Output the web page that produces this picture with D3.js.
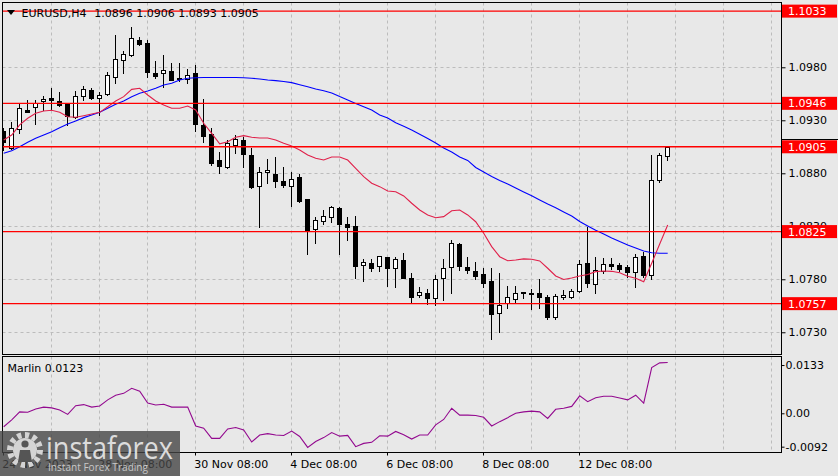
<!DOCTYPE html>
<html><head><meta charset="utf-8">
<script src="https://cdn.jsdelivr.net/npm/d3@7"></script>
<style>html,body{margin:0;padding:0;background:#e8e8e8;}svg{display:block}</style>
</head><body>
<svg id="c" width="838" height="476"></svg>
<script>
// ---------------- DATA ----------------
const times = [
 "24 Nov 08:00","24 Nov 12:00","24 Nov 16:00","24 Nov 20:00",
 "27 Nov 00:00","27 Nov 04:00","27 Nov 08:00","27 Nov 12:00","27 Nov 16:00","27 Nov 20:00",
 "28 Nov 00:00","28 Nov 04:00","28 Nov 08:00","28 Nov 12:00","28 Nov 16:00","28 Nov 20:00",
 "29 Nov 00:00","29 Nov 04:00","29 Nov 08:00","29 Nov 12:00","29 Nov 16:00","29 Nov 20:00",
 "30 Nov 00:00","30 Nov 04:00","30 Nov 08:00","30 Nov 12:00","30 Nov 16:00","30 Nov 20:00",
 "1 Dec 00:00","1 Dec 04:00","1 Dec 08:00","1 Dec 12:00","1 Dec 16:00","1 Dec 20:00",
 "4 Dec 00:00","4 Dec 04:00","4 Dec 08:00","4 Dec 12:00","4 Dec 16:00","4 Dec 20:00",
 "5 Dec 00:00","5 Dec 04:00","5 Dec 08:00","5 Dec 12:00","5 Dec 16:00","5 Dec 20:00",
 "6 Dec 00:00","6 Dec 04:00","6 Dec 08:00","6 Dec 12:00","6 Dec 16:00","6 Dec 20:00",
 "7 Dec 00:00","7 Dec 04:00","7 Dec 08:00","7 Dec 12:00","7 Dec 16:00","7 Dec 20:00",
 "8 Dec 00:00","8 Dec 04:00","8 Dec 08:00","8 Dec 12:00","8 Dec 16:00","8 Dec 20:00",
 "11 Dec 00:00","11 Dec 04:00","11 Dec 08:00","11 Dec 12:00","11 Dec 16:00","11 Dec 20:00",
 "12 Dec 00:00","12 Dec 04:00","12 Dec 08:00","12 Dec 12:00","12 Dec 16:00","12 Dec 20:00",
 "13 Dec 00:00","13 Dec 04:00","13 Dec 08:00","13 Dec 12:00","13 Dec 16:00","13 Dec 20:00",
 "14 Dec 00:00","14 Dec 04:00"];

const open = [1.0920,1.09042,1.09215,1.09397,1.09423,1.09479,1.0951,1.09479,1.09454,1.09334,
 1.09532,1.09583,1.09508,1.09545,1.09711,1.09866,1.09913,1.10058,1.10029,1.09743,
 1.09743,1.09765,1.09692,1.09688,1.09743,1.09256,1.09171,1.08925,1.08862,1.09064,
 1.09114,1.08973,1.08683,1.08809,1.08793,1.08727,1.08683,1.08762,1.08555,1.0827,
 1.08347,1.08383,1.08475,1.08326,1.08303,1.07938,1.07951,1.07928,1.08008,1.07902,
 1.07982,1.07815,1.07647,1.07668,1.07628,1.07809,1.07913,1.08133,1.07916,1.07878,
 1.07848,1.07784,1.07485,1.07576,1.07614,1.07668,1.07672,1.07668,1.0763,1.07442,
 1.0763,1.07636,1.07692,1.07951,1.07753,1.07878,1.07942,1.07935,1.07919,1.07866,
 1.0802,1.07841,1.08737,1.0896];
const high = [1.0923,1.09287,1.09454,1.09492,1.09492,1.09529,1.09608,1.09564,1.0946,1.09576,
 1.09624,1.09602,1.0957,1.09758,1.10105,1.09954,1.10177,1.10089,1.10058,1.09859,
 1.09916,1.09838,1.0984,1.09781,1.09822,1.09498,1.09225,1.09004,1.09114,1.09161,
 1.0914,1.09036,1.08857,1.08935,1.08951,1.08862,1.08809,1.08793,1.08555,1.08388,
 1.08454,1.08492,1.08479,1.08388,1.08397,1.07987,1.07992,1.0802,1.0801,1.08008,
 1.08051,1.07857,1.07725,1.07704,1.07845,1.07992,1.08175,1.0814,1.08008,1.07963,
 1.07904,1.07904,1.07857,1.07734,1.07737,1.07683,1.07706,1.078,1.07652,1.07661,
 1.07699,1.07708,1.07982,1.08296,1.08013,1.07998,1.07998,1.07957,1.07935,1.08039,
 1.0806,1.08973,1.08994,1.0906];
const low = [1.0902,1.09029,1.09177,1.09375,1.09265,1.09397,1.09397,1.09435,1.09256,1.09325,
 1.09494,1.09501,1.0935,1.09539,1.09649,1.09743,1.09905,1.1001,1.09711,1.09696,
 1.09617,1.09677,1.09666,1.09655,1.09202,1.09098,1.08878,1.088,1.08847,1.08989,
 1.08862,1.08664,1.08296,1.08706,1.08668,1.08668,1.08494,1.08532,1.08043,1.08145,
 1.08319,1.08343,1.08039,1.08171,1.07815,1.07787,1.07878,1.07881,1.0774,1.07725,
 1.07808,1.07579,1.07636,1.07567,1.07553,1.07605,1.07674,1.07888,1.07859,1.07803,
 1.07727,1.07234,1.07306,1.07529,1.07579,1.07621,1.07517,1.07526,1.07423,1.07423,
 1.07611,1.07621,1.07683,1.0773,1.07674,1.07862,1.07897,1.07881,1.07819,1.0773,
 1.07825,1.078,1.08721,1.0893];
const close = [1.09095,1.09225,1.09413,1.09381,1.09466,1.09498,1.09489,1.09442,1.09343,1.09529,
 1.09592,1.09513,1.09539,1.09727,1.09878,1.09925,1.10074,1.10017,1.09758,1.09721,
 1.09775,1.09683,1.09696,1.09725,1.09262,1.09155,1.089,1.08872,1.09083,1.09121,
 1.08979,1.08674,1.08815,1.08831,1.0873,1.0869,1.08746,1.08539,1.08256,1.08357,
 1.08397,1.08479,1.08322,1.08289,1.07925,1.07963,1.07909,1.0802,1.07909,1.07993,
 1.07815,1.07636,1.07677,1.07619,1.078,1.07904,1.0814,1.07923,1.07883,1.07831,
 1.07768,1.07475,1.0756,1.07636,1.07674,1.07683,1.07675,1.07636,1.07447,1.07642,
 1.07652,1.0769,1.07942,1.07768,1.07888,1.07942,1.07925,1.07897,1.07872,1.08008,
 1.07841,1.08737,1.08973,1.0905];

const maFast = [1.09114,1.09161,1.09256,1.09319,1.09366,1.09388,1.09394,1.09375,1.09334,1.09328,
 1.09343,1.09359,1.09375,1.09428,1.09482,1.09523,1.09592,1.09602,1.09539,1.09482,
 1.09444,1.09413,1.09413,1.09435,1.09397,1.09272,1.09177,1.09078,1.09098,1.0914,
 1.09155,1.0914,1.09133,1.09133,1.09114,1.09083,1.09058,1.0902,1.08973,1.08942,
 1.08925,1.08954,1.08954,1.08925,1.08847,1.08768,1.08706,1.08674,1.08633,1.08626,
 1.08586,1.08517,1.08454,1.08407,1.08381,1.08391,1.08447,1.08454,1.08407,1.08343,
 1.08234,1.08108,1.08013,1.07975,1.07982,1.07992,1.07989,1.07973,1.07904,1.07831,
 1.07798,1.07812,1.07831,1.07845,1.07872,1.07878,1.07875,1.07862,1.07828,1.07809,
 1.07777,1.07951,1.08133,1.08312];
const maSlow = [1.08989,1.09013,1.09051,1.09092,1.0913,1.09161,1.09192,1.0923,1.09265,1.09293,
 1.09325,1.0935,1.09375,1.09413,1.09451,1.09482,1.09523,1.09555,1.09576,1.09602,
 1.09633,1.09649,1.0968,1.09696,1.09702,1.09704,1.09704,1.09704,1.09704,1.09703,
 1.09702,1.09696,1.0969,1.0968,1.09674,1.09666,1.09655,1.09635,1.09616,1.09595,
 1.09578,1.09558,1.09524,1.09492,1.09458,1.09428,1.09397,1.0935,1.09322,1.09276,
 1.09243,1.09208,1.09169,1.09128,1.09086,1.09039,1.09001,1.08954,1.08921,1.08855,
 1.08812,1.0877,1.08732,1.08699,1.08661,1.08624,1.08588,1.08548,1.0851,1.08475,
 1.08435,1.08397,1.08345,1.08303,1.08262,1.08227,1.0819,1.08156,1.08124,1.08095,
 1.08067,1.0805,1.08045,1.08045];

const marlin = [-0.0037,-0.0018,0.0004,0.0003,0.0012,0.0017,0.0015,0.0009,-0.0003,0.0021,
 0.0024,0.0017,0.0020,0.0037,0.0050,0.0055,0.0069,0.0061,0.0028,0.0023,
 0.0025,0.0017,0.0017,0.0017,-0.0035,-0.0041,-0.0069,-0.0069,-0.0043,-0.0039,
 -0.0046,-0.0079,-0.0060,-0.0056,-0.0060,-0.0061,-0.0049,-0.0064,-0.0094,-0.0078,
 -0.0067,-0.0053,-0.0063,-0.0061,-0.0092,-0.0083,-0.0080,-0.0062,-0.0063,-0.0050,
 -0.0059,-0.0071,-0.0060,-0.0060,-0.0032,-0.0017,0.0014,-0.0005,-0.0005,-0.0006,
 -0.0011,-0.0035,-0.0023,-0.0012,0.0000,0.0004,0.0006,0.0004,-0.0014,0.0011,
 0.0014,0.0019,0.0048,0.0032,0.0043,0.0047,0.0047,0.0042,0.0037,0.0050,
 0.0028,0.0126,0.0139,0.0140];

const levels = [1.1033, 1.0946, 1.0905, 1.0825, 1.0757];
const priceTicks = [1.0730, 1.0780, 1.0830, 1.0880, 1.0930, 1.0980];
const marlinTicks = [0.0133, 0, -0.0092];
const marlinTickLabels = ["0.0133", "0.00", "-0.0092"];
const timeTicks = ["24 Nov 08:00","28 Nov 08:00","30 Nov 08:00","4 Dec 08:00","6 Dec 08:00","8 Dec 08:00","12 Dec 08:00"];
const timeTickLabels = ["24 Nov 2023","28 Nov 08:00","30 Nov 08:00","4 Dec 08:00","6 Dec 08:00","8 Dec 08:00","12 Dec 08:00"];
const symbolTitle = "EURUSD,H4";
const lastBar = [1.0896, 1.0906, 1.0893, 1.0905];
const indicatorName = "Marlin";
const indicatorValue = 0.0123;

// ---------------- LAYOUT ----------------
const FONT = "DejaVu Sans, Verdana, sans-serif";
const L = 2.5, R = 781.5, T = 2.5, B = 354.5, IT = 356.5, IB = 452.5;
const svg = d3.select("#c");
const x = d3.scalePoint().domain(times).range([3.7, 667.7]);
const y = d3.scaleLinear().domain([1.07095, 1.10416]).range([354, 2]);
const yi = d3.scaleLinear().domain([-0.0094, 0.0140]).range([447.4, 362.5]);
const px = v => Math.floor(v) + 0.5;

svg.append("rect").attr("width", 838).attr("height", 476).attr("fill", "#e8e8e8");

const defs = svg.append("defs");
defs.append("clipPath").attr("id", "cm").append("rect").attr("x", L).attr("y", T).attr("width", R - L).attr("height", B - T);
defs.append("clipPath").attr("id", "ci").append("rect").attr("x", L).attr("y", IT).attr("width", R - L).attr("height", IB - IT);

// grid
const gridCol = "#bcbcbc";
const step = x.step();
const gx = d3.range(6, 98, 6).map(k => x(times[0]) + step * k).filter(v => v < R - 2);
const grid = svg.append("g").attr("stroke", gridCol).attr("stroke-dasharray", "3,3").attr("stroke-width", 1);
gx.forEach(v => {
  grid.append("line").attr("x1", px(v)).attr("x2", px(v)).attr("y1", T).attr("y2", B);
  grid.append("line").attr("x1", px(v)).attr("x2", px(v)).attr("y1", IT).attr("y2", IB);
});
priceTicks.forEach(p => grid.append("line").attr("x1", L).attr("x2", R).attr("y1", px(y(p))).attr("y2", px(y(p))));

// candles
const main = svg.append("g").attr("clip-path", "url(#cm)");
const bars = times.map((t, i) => ({t, o: open[i], h: high[i], l: low[i], c: close[i]}));
const cg = main.append("g");
cg.selectAll("line.w").data(bars).join("line").attr("class", "w")
  .attr("x1", d => px(x(d.t))).attr("x2", d => px(x(d.t)))
  .attr("y1", d => Math.round(y(d.h))).attr("y2", d => Math.round(y(d.l)) + 1)
  .attr("stroke", "#000").attr("stroke-width", 1);
cg.selectAll("rect.b").data(bars).join("rect").attr("class", "b")
  .attr("x", d => Math.floor(x(d.t)) - 1.5)
  .attr("width", 4)
  .attr("y", d => Math.round(y(Math.max(d.o, d.c))) + 0.5)
  .attr("height", d => Math.max(1, Math.round(y(Math.min(d.o, d.c))) - Math.round(y(Math.max(d.o, d.c)))))
  .attr("fill", d => d.c >= d.o ? "#fff" : "#000")
  .attr("stroke", "#000").attr("stroke-width", 1);

// moving averages
const lineP = arr => d3.line().x((d, i) => x(times[i])).y(d => y(d))(arr);
main.append("path").attr("d", lineP(maSlow)).attr("fill", "none").attr("stroke", "#0000ff").attr("stroke-width", 1.1);
main.append("path").attr("d", lineP(maFast)).attr("fill", "none").attr("stroke", "#e0204a").attr("stroke-width", 1.1);

// levels
levels.forEach(p => main.append("line").attr("x1", L).attr("x2", R).attr("y1", y(p)).attr("y2", y(p))
  .attr("stroke", "#ff0000").attr("stroke-width", 1.4));

// indicator
const ind = svg.append("g").attr("clip-path", "url(#ci)");
ind.append("path").attr("d", d3.line().x((d, i) => x(times[i])).y(d => yi(d))(marlin))
  .attr("fill", "none").attr("stroke", "#93098f").attr("stroke-width", 1.1);

// frames
const fr = svg.append("g").attr("fill", "none").attr("stroke", "#000").attr("stroke-width", 1);
fr.append("rect").attr("x", L).attr("y", T).attr("width", R - L).attr("height", B - T);
fr.append("rect").attr("x", L).attr("y", IT).attr("width", R - L).attr("height", IB - IT);

// right price axis
const ay = svg.append("g").attr("transform", `translate(${R},0)`)
  .call(d3.axisRight(y).tickValues(priceTicks).tickFormat(d3.format(".4f")).tickSize(4).tickPadding(3));
ay.select(".domain").remove();
ay.selectAll("text").attr("font-family", FONT).attr("font-size", 11).attr("fill", "#000");
ay.selectAll("line").attr("stroke", "#000");

// red level labels
const lab = svg.append("g");
levels.forEach(p => {
  const yy = y(p);
  lab.append("rect").attr("x", 782).attr("y", yy - 6.5).attr("width", 55).attr("height", 13).attr("fill", "#ff0000");
  lab.append("text").attr("x", 788).attr("y", yy).attr("dy", "0.36em").attr("font-family", FONT).attr("font-size", 11)
    .attr("fill", "#fff").text(d3.format(".4f")(p));
});
lab.append("line").attr("x1", 782).attr("x2", 838).attr("y1", Math.floor(y(lastBar[3]) - 7) + 0.5).attr("y2", Math.floor(y(lastBar[3]) - 7) + 0.5)
  .attr("stroke", "#000").attr("stroke-width", 1);

// indicator axis
const ai = svg.append("g").attr("transform", `translate(${R},0)`)
  .call(d3.axisRight(yi).tickValues(marlinTicks).tickFormat((d, i) => marlinTickLabels[i]).tickSize(3).tickPadding(1));
ai.select(".domain").remove();
ai.selectAll("text").attr("font-family", FONT).attr("font-size", 11).attr("fill", "#000");
ai.selectAll("line").attr("stroke", "#000");

// time axis
const tx = svg.append("g");
timeTicks.forEach((t, i) => {
  const xv = x(t);
  tx.append("line").attr("x1", px(xv)).attr("x2", px(xv)).attr("y1", IB).attr("y2", IB + 3).attr("stroke", "#000");
  tx.append("text").attr("x", xv - 1.5).attr("y", 468).attr("font-family", FONT).attr("font-size", 11).attr("fill", "#000").text(timeTickLabels[i]);
});

// title
svg.append("path").attr("d", "M7,10 L15,10 L11,15 Z").attr("fill", "#000");
svg.append("text").attr("x", 21.5).attr("y", 16.5).attr("font-family", FONT).attr("font-size", 11).text(symbolTitle);
svg.append("text").attr("x", 94.3).attr("y", 16.5).attr("font-family", FONT).attr("font-size", 11)
  .text(lastBar.map(d3.format(".4f")).join(" "));
svg.append("text").attr("x", 7.5).attr("y", 372).attr("font-family", FONT).attr("font-size", 11)
  .text(indicatorName + " " + d3.format(".4f")(indicatorValue));

// watermark
const wm = svg.append("g");
wm.append("rect").attr("x", 0).attr("y", 431).attr("width", 180).attr("height", 45).attr("fill", "#454545").attr("opacity", 0.8);
wm.append("circle").attr("cx", 25).attr("cy", 450).attr("r", 15).attr("fill", "none").attr("stroke", "#d4d4d4")
  .attr("stroke-width", 6).attr("stroke-dasharray", "4.2,3.6");
wm.append("circle").attr("cx", 25).attr("cy", 450).attr("r", 12).attr("fill", "#d4d4d4");
wm.append("circle").attr("cx", 25).attr("cy", 444).attr("r", 3.6).attr("fill", "#555");
wm.append("path").attr("d", "M18,462 L20,450 L30,450 L32,462 Z").attr("fill", "#555");
wm.append("text").attr("x", 46).attr("y", 459).attr("font-family", "Open Sans, sans-serif").attr("font-size", 31)
  .attr("fill", "#dcdcdc").attr("textLength", 127).attr("lengthAdjust", "spacingAndGlyphs").text("instaforex");
wm.append("text").attr("x", 48).attr("y", 471).attr("font-family", "Open Sans, sans-serif").attr("font-size", 11)
  .attr("fill", "#c8c8c8").attr("textLength", 100).attr("lengthAdjust", "spacingAndGlyphs").text("Instant Forex Trading");
</script>
</body></html>
